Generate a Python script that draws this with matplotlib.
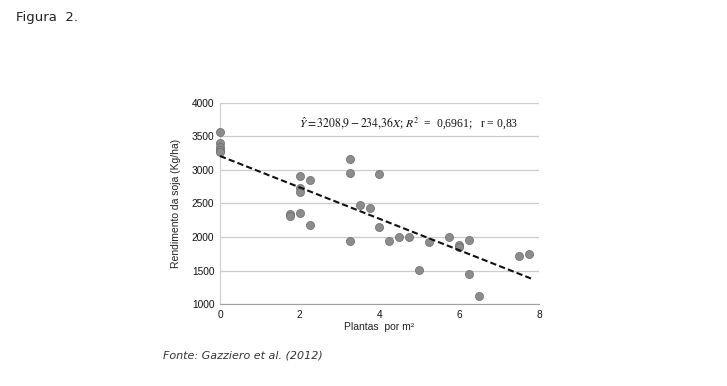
import matplotlib
matplotlib.use("Agg")
import matplotlib.pyplot as plt
import numpy as np

plants = [0, 0, 0, 0, 0,
          1.75, 1.75,
          2, 2, 2, 2,
          2.25, 2.25,
          3.25, 3.25, 3.25,
          3.5, 3.75,
          4, 4,
          4.25, 4.5, 4.75, 5, 5.25, 5.75,
          6, 6,
          6.25, 6.25,
          6.5, 7.5, 7.75]
yield_kg = [3570, 3400, 3345, 3305, 3265,
            2345, 2315,
            2915, 2735, 2665, 2365,
            2855, 2175,
            3165, 2950, 1945,
            2485, 2435,
            2940, 2145,
            1935, 1995, 2005, 1510, 1925, 2000,
            1875, 1845,
            1955, 1445,
            1115, 1715, 1745]
intercept = 3208.9
slope = -234.36
x_ticks = [0, 2, 4, 6, 8]
y_ticks = [1000, 1500, 2000, 2500, 3000, 3500, 4000]

plt.rcParams["mathtext.fontset"] = "stix"
fig = plt.figure(figsize=(7.27, 3.86), dpi=100)
ax = fig.add_axes([0.3026, 0.2124, 0.4388, 0.5208])

ax.set_xlim(0, 8)
ax.set_ylim(1000, 4000)
ax.set_xticks(x_ticks)
ax.set_yticks(y_ticks)
ax.yaxis.grid(True, color="#cccccc", linewidth=0.9)
ax.set_axisbelow(True)
for s in ["top", "right"]:
    ax.spines[s].set_visible(False)
ax.spines["left"].set_color("#cccccc")
ax.spines["bottom"].set_color("#a0a0a0")
ax.tick_params(axis="both", length=0, labelsize=7.3, colors="#111111", pad=4)
for lab in ax.get_xticklabels() + ax.get_yticklabels():
    lab.set_fontfamily("Liberation Sans")

ax.scatter(plants, yield_kg, s=34, color="#8c8c8c", edgecolors="#6a6a6a",
           linewidths=0.5, zorder=3, clip_on=False)

xl = np.array([0, 7.8])
ax.plot(xl, intercept + slope * xl, color="#111111", linestyle=(0, (3, 1.5)),
        linewidth=1.5, zorder=4)

ax.text(4.72, 3700,
        r"$\hat{Y} = 3208{,}9 - 234{,}36X$; $R^2$  =  0,6961;   r = 0,83",
        ha="center", va="center", fontsize=8.4, family="Liberation Serif",
        color="#111111")

ax.set_ylabel("Rendimento da soja (Kg/ha)", fontsize=7.5,
              family="Liberation Sans", labelpad=8, color="#222222")
ax.set_xlabel("Plantas  por m²", fontsize=7.5, family="Liberation Sans",
              labelpad=2, color="#222222")

fig.text(16 / 727, 1 - 18 / 386, "Figura  2.", fontsize=9.5,
         family="DejaVu Sans", va="center", ha="left", color="#222222")
fig.text(163 / 727, 1 - 355 / 386, "Fonte: Gazziero et al. (2012)",
         fontsize=8, family="DejaVu Sans", style="italic", va="center",
         ha="left", color="#333333")

fig.savefig("out.png", dpi=100)
